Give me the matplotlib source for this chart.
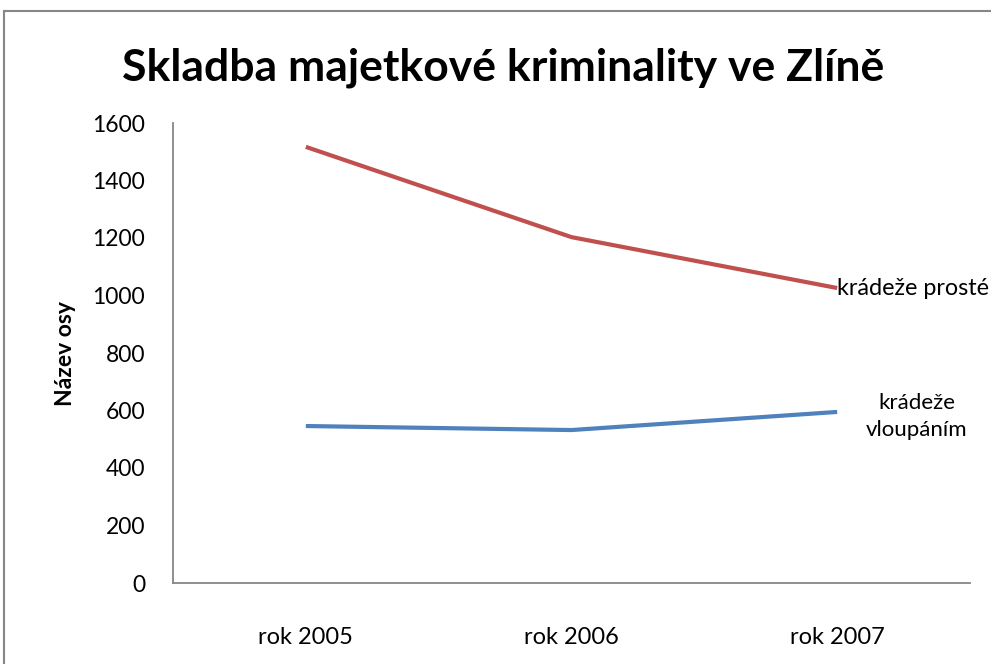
import matplotlib
matplotlib.use("Agg")
import matplotlib.pyplot as plt
from matplotlib.lines import Line2D

categories = ["rok 2005", "rok 2006", "rok 2007"]
kradeze_proste = [1517, 1203, 1026]
kradeze_vloupanim = [546, 532, 595]
yticks = [0, 200, 400, 600, 800, 1000, 1200, 1400, 1600]

FONT = ["Lato", "DejaVu Sans"]
plt.rcParams['font.family'] = FONT

W, H = 991, 664
fig = plt.figure(figsize=(W / 100, H / 100), dpi=100)
ax = fig.add_axes([173 / W, (H - 583) / H, (970 - 173) / W, (583 - 123) / H])

x = list(range(len(categories)))
ax.plot(x, kradeze_proste, color="#C0504D", lw=3, solid_capstyle="butt")
ax.plot(x, kradeze_vloupanim, color="#4F81BD", lw=3, solid_capstyle="butt")

ax.set_xlim(-0.5, 2.5)
ax.set_ylim(0, 1600)
ax.set_yticks(yticks)
ax.set_yticklabels([str(v) for v in yticks], fontsize=16.5)
ax.set_xticks(x)
ax.set_xticklabels(categories, fontsize=17)
ax.tick_params(axis="both", length=0, colors="black")
ax.tick_params(axis="y", pad=20)
ax.tick_params(axis="x", pad=32)

for s in ["top", "right"]:
    ax.spines[s].set_visible(False)
for s in ["left", "bottom"]:
    ax.spines[s].set_color("#868686")
    ax.spines[s].set_linewidth(1.3)

ax.set_ylabel("Název osy", fontsize=16.5, fontweight="bold", labelpad=12)

ax.text(x[-1], kradeze_proste[-1], "krádeže prosté", fontsize=16.8,
        ha="left", va="center")
ax.text(x[-1] + 0.3, kradeze_vloupanim[-1] - 15, "krádeže\nvloupáním", fontsize=16,
        ha="center", va="center", linespacing=1.45)

fig.text(503 / W, 1 - 68 / H, "Skladba majetkové kriminality ve Zlíně",
         fontsize=32, fontweight="bold", ha="center", va="center")

# outer chart border (cropped)
fig.add_artist(Line2D([4 / W, 4 / W], [0, 1 - 11 / H], transform=fig.transFigure,
                      color="#868686", lw=1.5))
fig.add_artist(Line2D([4 / W, 1], [1 - 11 / H, 1 - 11 / H], transform=fig.transFigure,
                      color="#868686", lw=1.5))

fig.savefig("out.png", dpi=100)
